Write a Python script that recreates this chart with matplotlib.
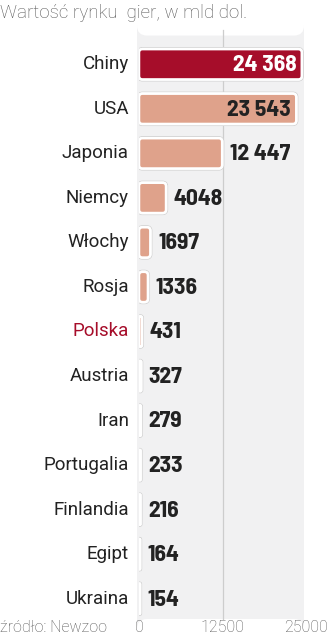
import matplotlib
matplotlib.use("Agg")
import matplotlib.pyplot as plt
from matplotlib.patches import FancyBboxPatch
import matplotlib.patheffects as pe

countries = ["Chiny", "USA", "Japonia", "Niemcy", "Włochy", "Rosja", "Polska",
             "Austria", "Iran", "Portugalia", "Finlandia", "Egipt", "Ukraina"]
values = [24368, 23543, 12447, 4048, 1697, 1336, 431, 327, 279, 233, 216, 164, 154]
value_labels = ["24 368", "23 543", "12 447", "4048", "1697", "1336", "431",
                "327", "279", "233", "216", "164", "154"]
xticks = [0, 12500, 25000]
title = "Wartość rynku  gier, w mld dol."
source = "źródło: Newzoo"

DARK = "#a60d2a"
SALMON = "#dfa28b"
BG = "#f1f1f2"

fig = plt.figure(figsize=(3.29, 6.40), dpi=100)
W, H = 329, 640
AX_L, AX_R, AX_T, AX_B = 139, 306, 42, 621
ax = fig.add_axes([AX_L / W, 1 - AX_B / H, (AX_R - AX_L) / W, (AX_B - AX_T) / H])
ax.set_xlim(0, 25000)
ax.set_ylim(len(countries) - 0.5, -0.5)
ax.axis("off")

px_x = 25000 / (AX_R - AX_L)          # data x per pixel
px_y = len(countries) / (AX_B - AX_T)  # data y per pixel

# background rounded panel
bg = FancyBboxPatch((-2 * px_x, len(countries) - 0.5 - 2 * px_y),
                    25000, len(countries) + 0.1,
                    boxstyle="round,pad=0,rounding_size=%f" % (10 * px_x),
                    mutation_aspect=px_y / px_x, facecolor=BG, edgecolor="none",
                    zorder=0, clip_on=False)
bg.set_y(len(countries) - 0.5 - 2 * px_y)
bg.set_height(-(len(countries) + 0.1))
ax.add_patch(bg)
ax.plot([12500, 12500], [len(countries) - 0.5 - 2 * px_y, -0.5 - 12 * px_y],
        color="#cdcdcd", lw=0.9, zorder=1, clip_on=False)

colors = [DARK if c == "Chiny" else SALMON for c in countries]
bars = ax.barh(range(len(countries)), values, height=0.68, color=colors,
               edgecolor="none", zorder=2)
for b, col in zip(bars, colors):
    x0, y0, w, h = b.get_x(), b.get_y(), b.get_width(), b.get_height()
    b.set_visible(False)
    r = min(3.5 * px_x, w / 2)
    p = FancyBboxPatch((x0, y0), w, h,
                       boxstyle="round,pad=0,rounding_size=%f" % r,
                       mutation_aspect=px_y / px_x, facecolor=col,
                       edgecolor="white", linewidth=1.8, zorder=2,
                       path_effects=[pe.withStroke(linewidth=3.0, foreground="#d2d2d2"),
                                     pe.Normal()])
    ax.add_patch(p)

val_font = dict(family=["Barlow Semi Condensed", "DejaVu Sans"], fontweight="bold",
                fontsize=17)
for i, (v, lab) in enumerate(zip(values, value_labels)):
    if i == 0:
        ax.text(v - 750, i + 0.02, lab, ha="right", va="center", color="white", zorder=3, **val_font)
    elif i == 1:
        ax.text(v - 900, i + 0.02, lab, ha="right", va="center", color="#222222", zorder=3, **val_font)
    else:
        ax.text(v + 1150, i + 0.02, lab, ha="left", va="center", color="#222222", zorder=3, **val_font)

lab_font = dict(family=["Roboto", "DejaVu Sans"], fontsize=13.5)
for i, c in enumerate(countries):
    ax.text(-1500, i, c, ha="right", va="center",
            color=DARK if c == "Polska" else "#222222", **lab_font)

tick_y = 1 - 628 / H
for t in xticks:
    xf = AX_L / W + (t / 25000) * (AX_R - AX_L) / W
    fig.text(xf, tick_y, str(t), ha="center", va="center", color="#555555",
             family=["Roboto", "DejaVu Sans"], fontweight="light", fontsize=11.5)
fig.text(0.0, tick_y, source, ha="left", va="center", color="#555555",
         family=["Roboto", "DejaVu Sans"], fontweight="light", fontsize=11.5)

fig.text(0.0, 1 - 13 / H, title, ha="left", va="center", color="#555555",
         family=["Roboto", "DejaVu Sans"], fontweight="light", fontsize=13.5)

fig.savefig("out.png", dpi=100, facecolor="white")
